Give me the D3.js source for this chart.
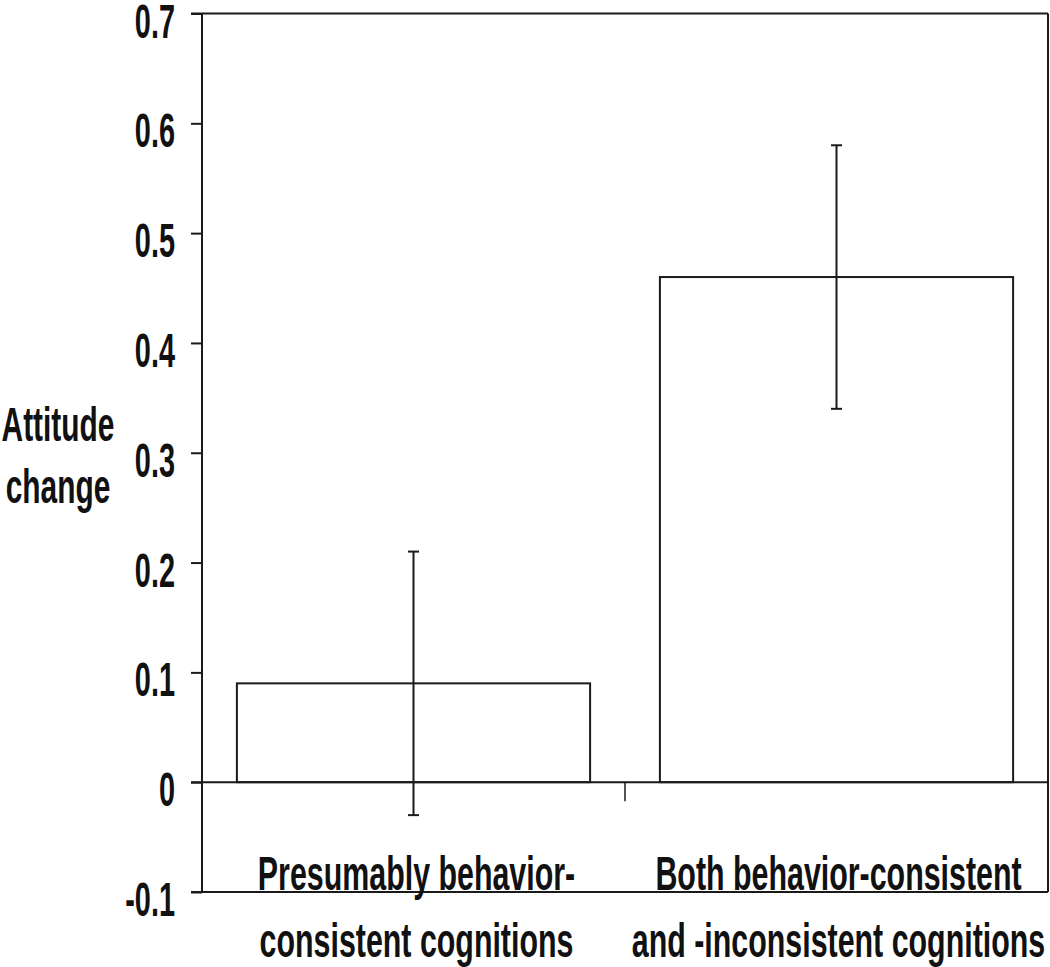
<!DOCTYPE html>
<html>
<head>
<meta charset="utf-8">
<script src="https://cdn.jsdelivr.net/npm/d3@7"></script>
<style>
  body { margin: 0; background: #fff; }
  text { font-family: "Liberation Sans Narrow", "Liberation Sans", Arial, sans-serif; font-weight: bold; fill: #111; }
</style>
</head>
<body>
<script>
const w = 1050;
const h = 967;

const categories = ["Presumably behavior-consistent cognitions", "Both behavior-consistent and -inconsistent cognitions"];
const labelLines = [["Presumably behavior-", "consistent cognitions"], ["Both behavior-consistent", "and -inconsistent cognitions"]];
const means = [0.09, 0.46];
const errHigh = [0.21, 0.58];
const errLow = [-0.03, 0.34];
const yTicks = [-0.1, 0, 0.1, 0.2, 0.3, 0.4, 0.5, 0.6, 0.7];
const yLabel = ["Attitude", "change"];

const plotLeft = 202, plotRight = 1048, plotTop = 13.5, plotBottom = 892;
const ink = "#1a1a1a";

const svg = d3.select("body").append("svg")
  .attr("width", w)
  .attr("height", h);

const yScale = d3.scaleLinear()
  .domain([-0.1, 0.7])
  .range([plotBottom, plotTop]);

const xScale = d3.scaleBand()
  .domain(categories)
  .range([plotLeft, plotRight])
  .paddingInner(0.165)
  .paddingOuter(0.0825);

// condensed text helper (squeeze horizontally, the original face is a condensed bold)
function ctext(g, x, y, str, anchor, sx) {
  g.append("text")
    .attr("transform", "translate(" + x + "," + y + ") scale(" + sx + ",1)")
    .attr("text-anchor", anchor)
    .style("font-size", "49px")
    .text(str);
}

// bars
svg.selectAll(".bar")
  .data(means)
  .enter()
  .append("rect")
  .attr("class", "bar")
  .attr("x", (d, i) => xScale(categories[i]))
  .attr("y", d => yScale(d))
  .attr("width", xScale.bandwidth())
  .attr("height", d => yScale(0) - yScale(d))
  .attr("fill", "#fff")
  .attr("stroke", ink)
  .attr("stroke-width", 2);

// frame: top and right
svg.append("line")
  .attr("x1", plotLeft - 11).attr("x2", plotRight)
  .attr("y1", plotTop).attr("y2", plotTop)
  .attr("stroke", ink).attr("stroke-width", 2);
svg.append("line")
  .attr("x1", plotRight).attr("x2", plotRight)
  .attr("y1", plotTop).attr("y2", plotBottom)
  .attr("stroke", ink).attr("stroke-width", 2);

// y axis
const yAxis = d3.axisLeft(yScale)
  .tickValues(yTicks)
  .tickSize(11)
  .tickFormat("");
const ga = svg.append("g")
  .attr("transform", "translate(" + plotLeft + ",0)")
  .call(yAxis);
ga.select(".domain").attr("stroke", ink).attr("stroke-width", 2).attr("d", "M0," + plotTop + "V" + plotBottom);
ga.selectAll(".tick line").attr("stroke", ink).attr("stroke-width", 2);

yTicks.forEach(t => {
  ctext(svg, 175, yScale(t) + 24, t === 0 ? "0" : String(t), "end", 0.59);
});

// zero line and bottom line
svg.append("line")
  .attr("x1", plotLeft - 11).attr("x2", plotRight)
  .attr("y1", yScale(0)).attr("y2", yScale(0))
  .attr("stroke", ink).attr("stroke-width", 2);
svg.append("line")
  .attr("x1", plotLeft - 11).attr("x2", plotRight)
  .attr("y1", plotBottom).attr("y2", plotBottom)
  .attr("stroke", ink).attr("stroke-width", 2);

// separator tick between categories
svg.append("line")
  .attr("x1", xScale.step() + plotLeft).attr("x2", xScale.step() + plotLeft)
  .attr("y1", yScale(0)).attr("y2", yScale(0) + 19)
  .attr("stroke", ink).attr("stroke-width", 1.5);

// error bars
const eb = svg.selectAll(".err")
  .data(means)
  .enter()
  .append("g")
  .attr("class", "err");
eb.append("line")
  .attr("x1", (d, i) => xScale(categories[i]) + xScale.bandwidth() / 2)
  .attr("x2", (d, i) => xScale(categories[i]) + xScale.bandwidth() / 2)
  .attr("y1", (d, i) => yScale(errHigh[i]))
  .attr("y2", (d, i) => yScale(errLow[i]))
  .attr("stroke", ink).attr("stroke-width", 2);
[errHigh, errLow].forEach(arr => {
  eb.append("line")
    .attr("x1", (d, i) => xScale(categories[i]) + xScale.bandwidth() / 2 - 5.5)
    .attr("x2", (d, i) => xScale(categories[i]) + xScale.bandwidth() / 2 + 5.5)
    .attr("y1", (d, i) => yScale(arr[i]))
    .attr("y2", (d, i) => yScale(arr[i]))
    .attr("stroke", ink).attr("stroke-width", 2);
});

// category labels
labelLines.forEach((lines, i) => {
  const cx = xScale(categories[i]) + xScale.bandwidth() / 2 + (i === 0 ? 3 : 2);
  ctext(svg, cx, 890, lines[0], "middle", 0.62);
  ctext(svg, cx, 957, lines[1], "middle", 0.62);
});

// y label
ctext(svg, 58, 441, yLabel[0], "middle", 0.61);
ctext(svg, 58, 503, yLabel[1], "middle", 0.61);
</script>
</body>
</html>
